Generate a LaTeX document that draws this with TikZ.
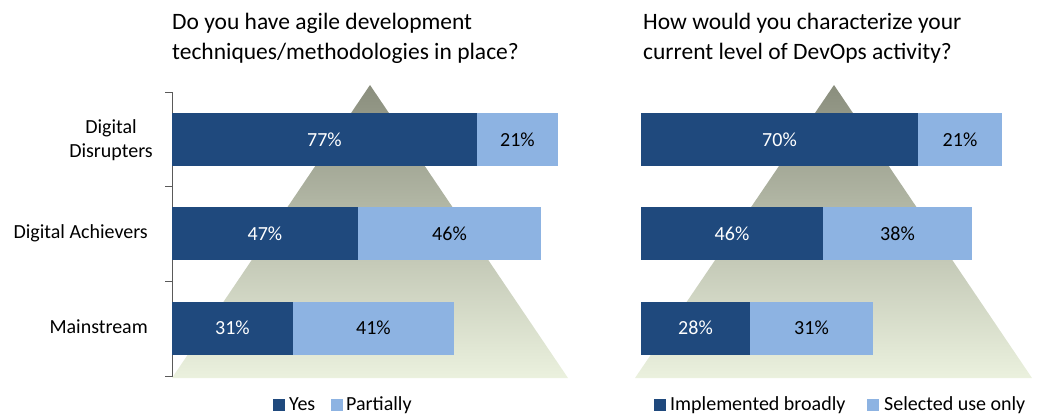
\documentclass[tikz,border=0pt]{standalone}
\usepackage{fontspec}
\setmainfont{Carlito}
\definecolor{darkbar}{RGB}{31,73,125}
\definecolor{lightbar}{RGB}{141,179,226}
\definecolor{tritop}{RGB}{138,142,125}
\definecolor{tribot}{RGB}{235,241,222}
\definecolor{axisgray}{RGB}{90,90,90}
\tikzset{
  seg/.style={anchor=west, minimum height=53pt, inner sep=0pt, outer sep=0pt, font=\fontsize{20}{24}\selectfont},
  segdark/.style={seg, fill=darkbar, text=white},
  seglight/.style={seg, fill=lightbar, text=black},
  catlabel/.style={anchor=base east, align=center, inner sep=0pt, font=\fontsize{20}{24}\selectfont},
  title/.style={anchor=base west, align=left, inner sep=0pt, font=\fontsize{23.5}{30}\selectfont},
  legtext/.style={anchor=base west, inner sep=0pt, font=\fontsize{20}{24}\selectfont},
  legbox/.style={minimum width=12pt, minimum height=12pt, inner sep=0pt, anchor=south west},
}
\begin{document}
\begin{tikzpicture}[x=1pt,y=-1pt]
\useasboundingbox (0,0) rectangle (1039,416);
% pyramids
\shade[top color=tritop, bottom color=tribot] (370,85) -- (568,378) -- (172,378) -- cycle;
\shade[top color=tritop, bottom color=tribot] (834,85) -- (1032,378) -- (635,378) -- cycle;
% axis
\draw[axisgray, line width=0.8pt] (165,92) -- (172,92) -- (172,376) -- (165,376);
\foreach \yy in {186,281} \draw[axisgray, line width=0.8pt] (165,\yy) -- (172,\yy);
% titles (anchor = baseline of last line)
\node[title] (t1) at (172,59) {Do you have agile development\\techniques/methodologies in place?};
\node[title] (t2) at (643,59) {How would you characterize your\\current level of DevOps activity?};
% category labels
\node[catlabel] (c1) at (153,157) {Digital\\Disrupters};
\node[catlabel] (c2) at (148,238) {Digital Achievers};
\node[catlabel] (c3) at (148,333) {Mainstream};
% left bars
\node[segdark, minimum width=305pt] (ld1) at (172,139.5) {77\%};
\node[seglight, minimum width=81pt] (ll1) at (ld1.east) {21\%};
\node[segdark, minimum width=186pt] (ld2) at (172,233.5) {47\%};
\node[seglight, minimum width=183pt] (ll2) at (ld2.east) {46\%};
\node[segdark, minimum width=121pt] (ld3) at (172,328) {31\%};
\node[seglight, minimum width=161pt] (ll3) at (ld3.east) {41\%};
% right bars
\node[segdark, minimum width=277pt] (rd1) at (641,139.5) {70\%};
\node[seglight, minimum width=84pt] (rl1) at (rd1.east) {21\%};
\node[segdark, minimum width=182pt] (rd2) at (641,233.5) {46\%};
\node[seglight, minimum width=149pt] (rl2) at (rd2.east) {38\%};
\node[segdark, minimum width=109pt] (rd3) at (641,328) {28\%};
\node[seglight, minimum width=123pt] (rl3) at (rd3.east) {31\%};
% legends
\node[legbox, fill=darkbar] (lb1) at (273,411) {};
\node[legtext] (lt1) at (289,410) {Yes};
\node[legbox, fill=lightbar] (lb2) at (331,411) {};
\node[legtext] (lt2) at (346,410) {Partially};
\node[legbox, fill=darkbar] (rb1) at (654,411) {};
\node[legtext] (rt1) at (670,410) {Implemented broadly};
\node[legbox, fill=lightbar] (rb2) at (867,411) {};
\node[legtext] (rt2) at (884,410) {Selected use only};
\end{tikzpicture}
\end{document}
